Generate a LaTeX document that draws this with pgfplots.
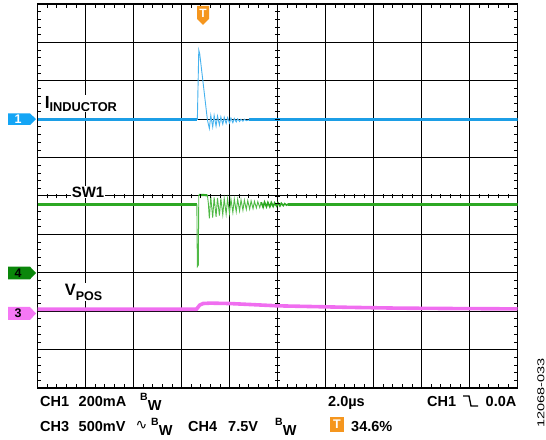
\documentclass[border=0pt]{standalone}
\usepackage{pgfplots}
\pgfplotsset{compat=1.18}
\usepackage{fontspec}
\setmainfont{Liberation Sans}
\newfontfamily\dejavu{DejaVu Sans}
\definecolor{chblue}{RGB}{28,158,230}
\definecolor{chbluel}{RGB}{70,178,238}
\definecolor{mkblue}{RGB}{20,165,245}
\definecolor{chgreen}{RGB}{45,168,35}
\definecolor{chgreenl}{RGB}{80,185,70}
\definecolor{mkgreen}{RGB}{10,135,10}
\definecolor{chmag}{RGB}{240,110,240}
\definecolor{mkmag}{RGB}{245,120,245}
\definecolor{trigor}{RGB}{245,150,30}
\newcommand{\fs}[1]{\fontsize{#1bp}{#1bp}\selectfont}
\begin{document}
\begin{tikzpicture}
\useasboundingbox (0,0) rectangle (546bp,440bp);
\begin{axis}[
  at={(37.5bp,52bp)}, anchor=south west,
  scale only axis, width=480bp, height=384bp,
  xmin=0, xmax=10, ymin=-5, ymax=5,
  xtick={0,...,10}, ytick={-5,...,5},
  xticklabels={}, yticklabels={},
  grid=major, major grid style={black, line width=1bp},
  major tick length=0pt,
  minor x tick num=4, minor y tick num=4,
  minor tick length=4bp, tick align=inside,
  minor tick style={black, line width=0.8bp},
  axis line style={black, line width=1.6bp},
]
% CH1 inductor current
\addplot[chblue, line width=3bp] coordinates {(0,1.98) (3.33,1.98)};
\addplot[chbluel, line width=0.9bp] coordinates {
(3.33,1.98) (3.36,3.80) (3.38,3.70) (3.54,1.98) (3.58,1.76) (3.61,2.10)
(3.65,1.80) (3.68,2.10) (3.72,1.82) (3.75,2.08) (3.79,1.85) (3.82,2.06)
(3.86,1.87) (3.89,2.05) (3.93,1.89) (3.96,2.04) (4.00,1.90) (4.03,2.03)
(4.07,1.91) (4.10,2.02) (4.14,1.93) (4.17,2.01) (4.21,1.94) (4.24,2.00)
(4.28,1.95) (4.31,2.00) (4.35,1.96) (4.40,1.98)};
\addplot[chblue, line width=3bp] coordinates {(4.40,1.98) (10,1.98)};
% CH4 SW1
\addplot[chgreen, line width=3bp] coordinates {(0,-0.22) (3.32,-0.22)};
\addplot[chgreenl, line width=0.9bp] coordinates {
(3.32,-0.22) (3.33,-1.84) (3.35,-1.80) (3.36,0.02)};
\addplot[chgreen, line width=2.2bp] coordinates {(3.36,0.03) (3.54,0.02)};
\addplot[chgreenl, line width=0.9bp] coordinates {
(3.54,0.02) (3.56,-0.20) (3.58,-0.58) (3.61,-0.03) (3.65,-0.56) (3.68,-0.04)
(3.72,-0.54) (3.75,-0.05) (3.79,-0.51) (3.82,-0.06) (3.86,-0.49) (3.89,-0.07)
(3.93,-0.47) (3.96,-0.07) (4.00,-0.45) (4.03,-0.08) (4.07,-0.43) (4.10,-0.08)
(4.14,-0.41) (4.17,-0.09) (4.21,-0.39) (4.24,-0.10) (4.28,-0.37) (4.31,-0.11)
(4.35,-0.35) (4.38,-0.12) (4.42,-0.34) (4.45,-0.13) (4.49,-0.33) (4.52,-0.14)
(4.56,-0.31) (4.59,-0.15) (4.63,-0.30) (4.66,-0.16)};
\addplot[chgreen, line width=1.6bp] coordinates {
(4.66,-0.16) (4.70,-0.29) (4.73,-0.16) (4.77,-0.28) (4.80,-0.17) (4.84,-0.28)
(4.87,-0.17) (4.91,-0.27) (4.94,-0.18) (4.98,-0.26) (5.01,-0.18) (5.05,-0.26)
(5.08,-0.19) (5.12,-0.25) (5.15,-0.20) (5.19,-0.24) (5.22,-0.21)};
\addplot[chgreen, line width=3bp] coordinates {(5.22,-0.22) (10,-0.22)};
% CH3 VPOS
\addplot[chmag, line width=3.6bp] coordinates {
(0,-2.95) (3.31,-2.95) (3.38,-2.84) (3.45,-2.80) (3.60,-2.79) (4.00,-2.80)
(4.50,-2.83) (5.00,-2.86) (5.75,-2.88) (6.50,-2.90) (7.50,-2.92) (8.50,-2.93) (10,-2.94)};
\end{axis}
\begin{scope}[x=1bp,y=1bp]
% centre-line ticks
\foreach \i in {1,...,49} {
  \draw[black, line width=0.8bp] ({37.5+\i*9.6},{440-196-2.3}) -- ({37.5+\i*9.6},{440-196+2.3});
  \draw[black, line width=0.8bp] ({277.5-2.5},{440-4-\i*7.68}) -- ({277.5+2.5},{440-4-\i*7.68});
}
% trigger marker top
\fill[trigor] (197,{440-6}) -- (209,{440-6}) -- (209,{440-19}) -- (203,{440-25}) -- (197,{440-19}) -- cycle;
\node[white, font=\fs{12}\bfseries] at (203,{440-13}) {T};
% channel markers
\fill[mkblue] (8,{440-113.3}) -- (30,{440-113.3}) -- (36,{440-119.2}) -- (30,{440-125}) -- (8,{440-125}) -- cycle;
\node[white, font=\fs{12.5}\bfseries] at (18,{440-119.2}) {1};
\fill[mkgreen] (8,{440-266.7}) -- (30,{440-266.7}) -- (36,{440-273}) -- (30,{440-279.3}) -- (8,{440-279.3}) -- cycle;
\node[black, font=\fs{12.5}\bfseries] at (18,{440-273}) {4};
\fill[mkmag] (8,{440-307}) -- (30,{440-307}) -- (36,{440-313.5}) -- (30,{440-320}) -- (8,{440-320}) -- cycle;
\node[black, font=\fs{12.5}\bfseries] at (18,{440-313.5}) {3};
% trace labels
\node[anchor=base west, fill=white, inner sep=0.6bp, font=\fs{17.5}\bfseries] at (44,{440-108})
  {I\raisebox{-3bp}{\fs{12.8}INDUCTOR}};
\node[anchor=base west, fill=white, inner sep=0.6bp, font=\fs{15}\bfseries] at (71,{440-197.3}) {SW1};
\node[anchor=base west, fill=white, inner sep=0.6bp, font=\fs{16.5}\bfseries] at (64,{440-295})
  {V\raisebox{-5.5bp}{\fs{12.5}POS}};
% bottom readout
\tikzset{rd/.style={anchor=base west, inner sep=0pt, font=\fs{14.5}\bfseries}}
\newcommand{\BW}{\raisebox{6.5bp}{\fs{10.5}B}\raisebox{-3.5bp}{W}}
\node[rd] at (40,{440-406.5}) {CH1};
\node[rd] at (78.5,{440-406.5}) {200mA};
\node[rd] at (140,{440-406.5}) {\BW};
\node[rd] at (328,{440-406.5}) {2.0µs};
\node[rd] at (427,{440-406.5}) {CH1};
\draw[black, line width=1.3bp] (463,{440-396}) -- (469,{440-396}) -- (471,{440-406}) -- (478,{440-406});
\node[rd] at (485.5,{440-406.5}) {0.0A};
\node[rd] at (40,{440-431.7}) {CH3};
\node[rd] at (78.5,{440-431.7}) {500mV};
\node[rd, font=\fs{14}\dejavu] at (135.5,{440-429.5}) {∿};
\node[rd] at (151,{440-431.7}) {\BW};
\node[rd] at (188,{440-431.7}) {CH4};
\node[rd] at (228,{440-431.7}) {7.5V};
\node[rd] at (275,{440-431.7}) {\BW};
\fill[trigor] (330,{440-417.5}) rectangle (344,{440-431.5});
\node[white, font=\fs{12.5}\bfseries] at (337,{440-424.5}) {T};
\node[rd] at (351,{440-431.7}) {34.6\%};
% figure code
\node[rotate=90, inner sep=0pt, font=\fs{10}] at (541,{440-393}) {\scalebox{1.45}[1]{12068-033}};
\end{scope}
\end{tikzpicture}
\end{document}
